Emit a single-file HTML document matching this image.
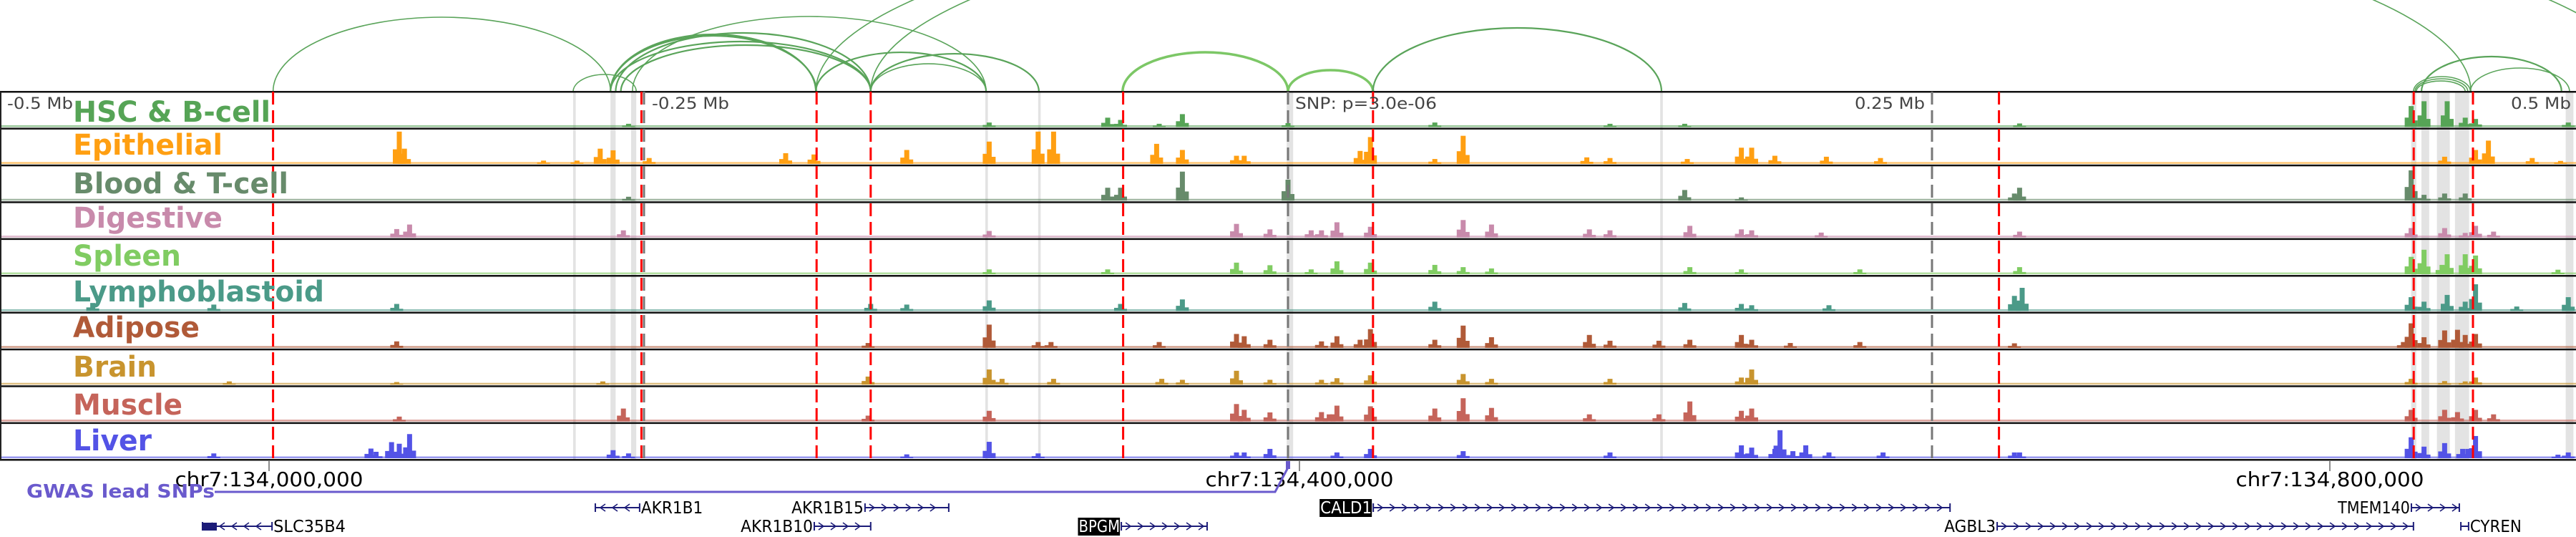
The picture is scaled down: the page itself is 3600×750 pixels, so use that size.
<!DOCTYPE html>
<html><head><meta charset="utf-8"><title>Regional chromatin tracks</title>
<style>
html,body{margin:0;padding:0;background:#fff;}
svg{display:block;}
text{font-family:"DejaVu Sans","Liberation Sans",sans-serif;}
</style></head>
<body>
<svg id="chart" width="3600" height="750" viewBox="0 0 3600 750" xmlns="http://www.w3.org/2000/svg"></svg>
<script>
// ---- data (genomic positions in kb from window start; window = 1000 kb, lead SNP at 500 kb) ----
const trackNames = ["HSC & B-cell","Epithelial","Blood & T-cell","Digestive","Spleen","Lymphoblastoid","Adipose","Brain","Muscle","Liver"];
const trackColors = ["#56a456","#ff9f12","#678b6b","#c88aab","#80cc62","#4b9a88","#b05a38","#c8942e","#c5645a","#5353e6"];

const hscPos = [244,384,430,435,450,459,500,557,625,654,784,936,941,950,957,961,997];
const hscVal = [10,14,29,22,10,40,12,14,10,10,11,65,80,80,29,25,14];
const epiPos = [155,157,211,224,233,238,252,305,316,352,384,403,409,449,459,480,483,528,532,557,568,616,625,655,676,680,689,709,730,949,961,966,983,994];
const epiVal = [100,47,10,10,47,42,18,33,29,43,69,100,100,62,43,25,25,40,83,15,87,20,18,15,50,50,25,22,18,22,43,72,18,9];
const bloodPos = [244,430,435,459,500,654,676,782,784,936,941,949,957];
const bloodVal = [12,40,40,90,65,33,10,22,40,94,18,22,22];
const digPos = [154,159,242,384,480,493,509,513,519,532,568,579,617,625,656,676,680,707,784,936,949,957,961,968];
const digVal = [26,40,22,20,42,25,22,22,47,33,54,40,25,22,36,25,22,15,18,29,29,14,36,18];
const splPos = [384,430,480,493,509,519,532,557,568,579,656,676,722,784,936,941,948,950,957,961,993];
const splVal = [15,15,36,28,15,40,36,29,22,18,22,15,15,22,54,76,29,62,62,58,14];
const lymPos = [36,83,154,338,352,384,435,459,557,654,676,680,710,782,785,936,941,950,957,961,977,997];
const lymVal = [25,20,22,22,20,33,22,36,29,25,22,18,18,47,72,43,29,50,29,83,14,43];
const adiPos = [154,337,384,403,408,450,480,483,493,513,519,528,532,557,568,579,617,625,644,656,676,680,695,722,782,933,936,941,949,954,957,961];
const adiVal = [20,15,72,18,18,18,43,36,25,20,36,25,58,25,69,33,40,22,22,25,40,25,15,18,14,18,76,33,54,56,40,43];
const braPos = [89,154,234,337,384,389,409,451,459,480,493,513,519,532,568,579,625,676,680,936,949,957,961];
const braVal = [10,8,10,25,47,18,18,18,15,43,15,15,20,29,33,18,18,22,47,18,11,10,22];
const musPos = [155,242,337,384,480,483,493,513,516,519,532,557,568,579,617,644,656,676,680,936,949,954,961,968];
const musVal = [15,40,18,33,54,36,28,29,22,49,47,40,72,42,22,22,62,33,40,36,36,29,36,22];
const livPos = [83,144,146,152,155,159,238,244,352,384,403,480,483,493,519,532,568,625,676,680,689,691,696,701,710,731,782,784,936,941,949,956,958,961,993,997];
const livVal = [15,30,20,50,45,75,25,15,12,51,15,18,18,29,18,29,22,18,40,33,29,87,22,40,18,18,18,18,65,36,47,29,29,69,11,18];
const trackPos = [hscPos,epiPos,bloodPos,digPos,splPos,lymPos,adiPos,braPos,musPos,livPos];
const trackVal = [hscVal,epiVal,bloodVal,digVal,splVal,lymVal,adiVal,braVal,musVal,livVal];

// enhancer / candidate lines
const enhancerKb = [106,249,317,338,436,533,776,937,960];
const bandStart = [222.5,237,245,382.5,403,499.5,644.5,936,940,946,953,996];
const bandEnd   = [223.5,239,247,383.5,404,502,645.5,938,943,951,958.5,999];
const grayDashKb = [250,500,750];

// loops: start kb, end kb, height
const loopStart = [106,222.5,237,237,239,241,245.5,237,316.7,338,316.7,338,338,435.8,500,533,936.9,937.5,938,940,959];
const loopEnd   = [237,247,316.7,316.9,338,338,382.8,338,959.2,1028,382.8,403.3,382.8,500,533,645,959,958,957,994.4,997.5];
const loopH     = [104,24,80,78,82,65,105,70,272,280,55,53,39,55,30,89,21,18,15,49,33];
const loopLight = [0,0,0,0,0,0,0,0,0,0,0,0,0,1,1,0,0,0,0,0,0];

// axis ticks
const tickBp = [134000000,134400000,134800000];
const windowStartBp = 133895556;

// genes
const geneNames  = ["AKR1B1","AKR1B15","CALD1","TMEM140","SLC35B4","AKR1B10","BPGM","AGBL3","CYREN"];
const geneStart  = [231.1,335.8,533.1,936.1,78.6,316.1,435.3,775.3,955.3];
const geneEnd    = [248.3,368.3,757,954.7,105.6,338,468.6,936.9,958.3];
const geneRow    = [0,0,0,0,1,1,1,1,1];
const geneStrand = [-1,1,1,1,-1,1,1,1,-1];
const geneBoxed  = [0,0,1,0,0,0,1,0,0];
const geneLabelSide = [1,-1,-1,-1,1,-1,-1,-1,1];

// ---- scales ----
const W = 3600, PX_PER_KB = 3.6;
const x = kb => kb * PX_PER_KB;
const panelTop = 128, rowH = 51.4, nRows = 10;
const rowTop = i => panelTop + i * rowH;
const maxBar = 45;
const y = (i, v) => rowTop(i) + rowH - 2 - v / 100 * maxBar;

const NS = "http://www.w3.org/2000/svg";
const svg = document.getElementById("chart");
function mk(tag, attrs, parent) {
  const e = document.createElementNS(NS, tag);
  for (const k in attrs) e.setAttribute(k, attrs[k]);
  (parent || svg).appendChild(e);
  return e;
}

// ---- loop arcs ----
const arcs = mk("g", {});


for (let i = 0; i < loopStart.length; i++) {
  const x1 = x(loopStart[i]), x2 = x(loopEnd[i]);
  const rx = (x2 - x1) / 2, ry = loopH[i];
  const p = mk("path", {d: `M${x1},${panelTop} A${rx},${ry} 0 0 1 ${x2},${panelTop}`, fill: "none",
    stroke: loopLight[i] ? "#7cc766" : "#5aa45a", "stroke-width": loopLight[i] ? 3.5 : (ry < 90 && ry > 40 ? 2.2 : 1.6)}, arcs);
  
  
}

// ---- grey highlight bands ----
const bands = mk("g", {});


for (let i = 0; i < bandStart.length; i++) {
  const b = mk("rect", {x: x(bandStart[i]), y: panelTop, width: Math.max(2, x(bandEnd[i]) - x(bandStart[i])), height: rowH * nRows, fill: "#e3e3e3"}, bands);
  
  
}

// ---- tracks ----
for (let t = 0; t < nRows; t++) {
  const g = mk("g", {});
  
  
  const col = trackColors[t];
  const base = mk("rect", {x: 0, y: rowTop(t) + rowH - 4.5, width: W, height: 2.5, fill: col, opacity: 0.6}, g);
  
  
  const P = trackPos[t], V = trackVal[t];
  for (let k = 0; k < P.length; k++) {
    const cx = x(P[k]);
    const sh = V[k] * 0.45;
    const s1 = mk("rect", {x: cx - 9, y: y(t, sh), width: 6, height: sh / 100 * maxBar, fill: col}, g);
    
    
    const s2 = mk("rect", {x: cx + 3, y: y(t, sh * 0.7), width: 6, height: sh * 0.7 / 100 * maxBar, fill: col}, g);
    
    
    const bar = mk("rect", {x: cx - 3.5, y: y(t, V[k]), width: 7, height: V[k] / 100 * maxBar, fill: col}, g);
    
    
  }
}

// ---- row separators ----
for (let i = 0; i <= nRows; i++) {
  const l = mk("rect", {x: 0, y: rowTop(i) - 1, width: W, height: 2.5, fill: "#111"});
  
  
}
const lb = mk("rect", {x: 0, y: panelTop, width: 2, height: rowH * nRows, fill: "#222"});



// ---- dashed lines ----
for (let i = 0; i < grayDashKb.length; i++) {
  const l = mk("line", {x1: x(grayDashKb[i]), x2: x(grayDashKb[i]), y1: panelTop, y2: panelTop + rowH * nRows, stroke: "#777", "stroke-width": 3, "stroke-dasharray": "18 8"});
  
  
}
for (let i = 0; i < enhancerKb.length; i++) {
  const l = mk("line", {x1: x(enhancerKb[i]), x2: x(enhancerKb[i]), y1: panelTop, y2: panelTop + rowH * nRows, stroke: "#f00", "stroke-width": 3, "stroke-dasharray": "18 8"});
  
  
}

// ---- panel text ----
function txt(s, attrs, name) {
  const e = mk("text", attrs);
  e.textContent = s;
  
  
  return e;
}
txt("-0.5 Mb", {x: 10, y: 152, "font-size": 22, fill: "#444", textLength: 92, lengthAdjust: "spacingAndGlyphs"}, "scale-label-minus-0-5mb");
txt("-0.25 Mb", {x: 911, y: 152, "font-size": 22, fill: "#444", textLength: 108, lengthAdjust: "spacingAndGlyphs"}, "scale-label-minus-0-25mb");
txt("SNP: p=3.0e-06", {x: 1810, y: 152, "font-size": 22, fill: "#444", textLength: 198, lengthAdjust: "spacingAndGlyphs"}, "snp-pvalue-label");
txt("0.25 Mb", {x: 2690, y: 152, "font-size": 22, fill: "#444", "text-anchor": "end", textLength: 98, lengthAdjust: "spacingAndGlyphs"}, "scale-label-0-25mb");
txt("0.5 Mb", {x: 3593, y: 152, "font-size": 22, fill: "#444", "text-anchor": "end", textLength: 84, lengthAdjust: "spacingAndGlyphs"}, "scale-label-0-5mb");

const labelW = [276,209,301,209,151,351,177,117,153,110];
const labelBase = [170,216,270,318,371,421,471,526,579,629];
for (let t = 0; t < nRows; t++) {
  txt(trackNames[t], {x: 102, y: labelBase[t], "font-size": 40, "font-weight": "bold", fill: trackColors[t], textLength: labelW[t], lengthAdjust: "spacingAndGlyphs"}, "track-label");
}

// ---- genomic axis ----
for (let i = 0; i < tickBp.length; i++) {
  const tx = x((tickBp[i] - windowStartBp) / 1000);
  const l = mk("line", {x1: tx, x2: tx, y1: 644, y2: 658, stroke: "#666", "stroke-width": 1.5});
  
  
  txt("chr7:" + tickBp[i].toLocaleString("en-US"), {x: tx, y: 679, "font-size": 28, fill: "#000", "text-anchor": "middle", textLength: 263, lengthAdjust: "spacingAndGlyphs"}, "axis-tick-label");
}

// ---- GWAS lead SNP track ----
const gw = mk("path", {d: `M300,687 L${x(495)},687 L${x(500)},653`, fill: "none", stroke: "#6a5acd", "stroke-width": 3});


const gwr = mk("rect", {x: x(500) - 3, y: 644, width: 6, height: 11, fill: "#6a5acd"});


txt("GWAS lead SNPs", {x: 37, y: 695, "font-size": 26, "font-weight": "bold", fill: "#6a5acd", textLength: 263, lengthAdjust: "spacingAndGlyphs"}, "gwas-track-label");

// ---- genes ----
const rowY = [709, 735];
for (let i = 0; i < geneNames.length; i++) {
  const g = mk("g", {});
  
  
  const x1 = x(geneStart[i]), x2 = x(geneEnd[i]), gy = rowY[geneRow[i]];
  mk("line", {x1: x1, x2: x2, y1: gy, y2: gy, stroke: "#1c1c78", "stroke-width": 2}, g);
  mk("line", {x1: x1, x2: x1, y1: gy - 6, y2: gy + 6, stroke: "#1c1c78", "stroke-width": 2}, g);
  mk("line", {x1: x2, x2: x2, y1: gy - 6, y2: gy + 6, stroke: "#1c1c78", "stroke-width": 2}, g);
  for (let cx = x1 + 10; cx < x2 - 5; cx += 17) {
    const d = geneStrand[i] > 0 ? `M${cx - 4},${gy - 5} L${cx + 3},${gy} L${cx - 4},${gy + 5}` : `M${cx + 4},${gy - 5} L${cx - 3},${gy} L${cx + 4},${gy + 5}`;
    mk("path", {d: d, fill: "none", stroke: "#1c1c78", "stroke-width": 1.6}, g);
  }
  const lx = geneLabelSide[i] > 0 ? x2 + 2 : x1 - 2;
  const anchor = geneLabelSide[i] > 0 ? "start" : "end";
  const wEst = geneNames[i].length * 14.4;
  if (geneBoxed[i]) {
    mk("rect", {x: lx - wEst - 1, y: gy - 12, width: wEst + 1, height: 25, fill: "#000"}, g);
  }
  const t = mk("text", {x: lx, y: gy + 8, "font-size": 23, fill: geneBoxed[i] ? "#fff" : "#000", "text-anchor": anchor, textLength: wEst, lengthAdjust: "spacingAndGlyphs"}, g);
  t.textContent = geneNames[i];
  
  
}
const ex = mk("rect", {x: 283, y: 730, width: 20, height: 11, fill: "#1c1c78"});


</script>
</body></html>
